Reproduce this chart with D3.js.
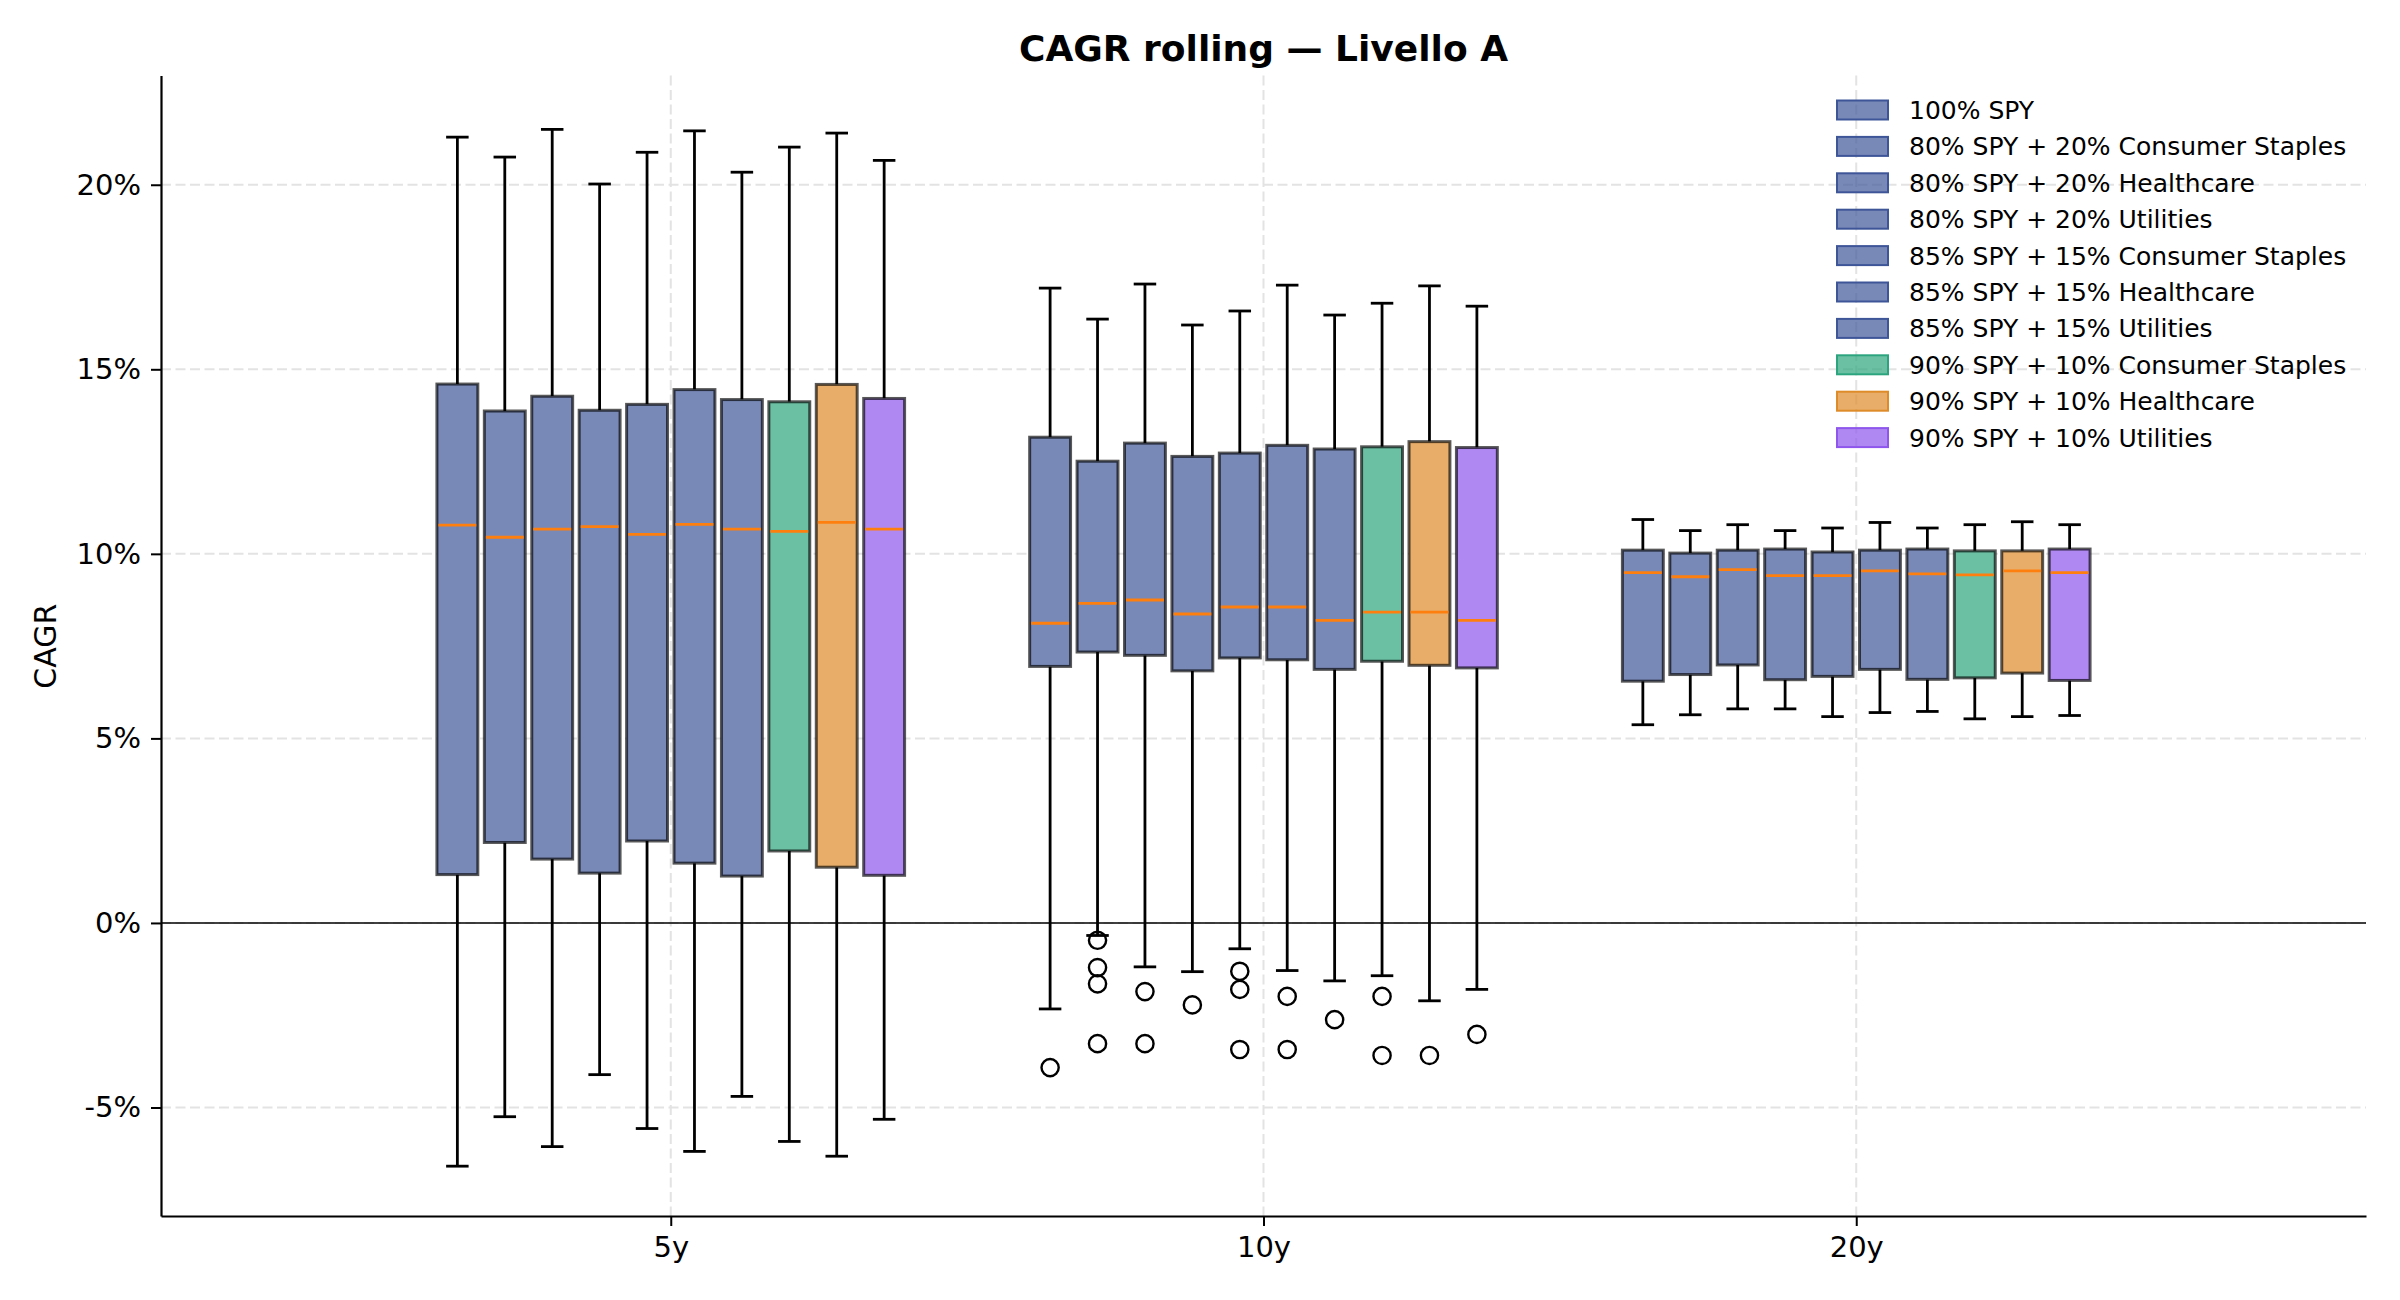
<!DOCTYPE html>
<html>
<head>
<meta charset="utf-8">
<script src="https://cdn.jsdelivr.net/npm/d3@7"></script>
<style>
  body { margin: 0; background: #fff; }
  svg text { font-family: "DejaVu Sans", sans-serif; }
</style>
</head>
<body>
<div id="chart"></div>
<script>
// data (CAGR in %)
const horizons = ['5y', '10y', '20y']
const seriesNames = [
  '100% SPY',
  '80% SPY + 20% Consumer Staples',
  '80% SPY + 20% Healthcare',
  '80% SPY + 20% Utilities',
  '85% SPY + 15% Consumer Staples',
  '85% SPY + 15% Healthcare',
  '85% SPY + 15% Utilities',
  '90% SPY + 10% Consumer Staples',
  '90% SPY + 10% Healthcare',
  '90% SPY + 10% Utilities'
]
const seriesColors = ['#3e5698', '#3e5698', '#3e5698', '#3e5698', '#3e5698', '#3e5698', '#3e5698', '#2ca57e', '#de8b2a', '#8e56ec']

// one array per horizon, one value per series
const whiskerHigh = [
  [21.29, 20.75, 21.50, 20.02, 20.88, 21.46, 20.34, 21.02, 21.40, 20.66],
  [17.20, 16.36, 17.31, 16.20, 16.58, 17.28, 16.47, 16.79, 17.26, 16.71],
  [10.93, 10.63, 10.79, 10.63, 10.70, 10.85, 10.70, 10.79, 10.87, 10.79]
]
const q3 = [
  [14.60, 13.87, 14.27, 13.89, 14.05, 14.45, 14.18, 14.12, 14.59, 14.21],
  [13.16, 12.51, 13.00, 12.64, 12.73, 12.94, 12.84, 12.90, 13.04, 12.88],
  [10.10, 10.02, 10.10, 10.13, 10.05, 10.10, 10.13, 10.08, 10.08, 10.13]
]
const medians = [
  [10.78, 10.45, 10.67, 10.74, 10.53, 10.80, 10.67, 10.61, 10.85, 10.67],
  [8.12, 8.66, 8.75, 8.37, 8.56, 8.56, 8.20, 8.42, 8.42, 8.20],
  [9.49, 9.38, 9.57, 9.41, 9.41, 9.54, 9.46, 9.43, 9.54, 9.49]
]
const q1 = [
  [1.31, 2.18, 1.73, 1.35, 2.22, 1.62, 1.27, 1.95, 1.51, 1.29],
  [6.95, 7.34, 7.25, 6.83, 7.18, 7.13, 6.87, 7.09, 6.98, 6.91],
  [6.55, 6.73, 6.99, 6.59, 6.68, 6.87, 6.60, 6.64, 6.77, 6.57]
]
const whiskerLow = [
  [-6.59, -5.25, -6.06, -4.11, -5.57, -6.19, -4.70, -5.92, -6.32, -5.32],
  [-2.33, -0.34, -1.19, -1.32, -0.70, -1.29, -1.57, -1.43, -2.11, -1.80],
  [5.37, 5.64, 5.80, 5.80, 5.59, 5.70, 5.73, 5.53, 5.59, 5.62]
]
const outliers = [
  [[], [], [], [], [], [], [], [], [], []],
  [[-3.92], [-0.47, -1.21, -1.65, -3.27], [-1.86, -3.27], [-2.22], [-1.31, -1.80, -3.43],
   [-1.99, -3.43], [-2.62], [-1.99, -3.59], [-3.59], [-3.02]],
  [[], [], [], [], [], [], [], [], [], []]
]
const yTicks = [-5, 0, 5, 10, 15, 20]

const svgWidth = 2400
const svgHeight = 1300
const margin = { top: 75.5, right: 34, bottom: 84, left: 161 }
const graphWidth = svgWidth - margin.left - margin.right
const graphHeight = svgHeight - margin.top - margin.bottom

const slot = 0.08
const boxWidth = 0.069

const svg = d3.select('#chart').append('svg')
  .attr('width', svgWidth)
  .attr('height', svgHeight)

const graph = svg.append('g')
  .attr('transform', `translate(${margin.left}, ${margin.top})`)

const x = d3.scaleLinear().domain([-0.86, 2.86]).range([0, graphWidth])
const y = d3.scaleLinear().domain([-7.94, 22.96]).range([graphHeight, 0])

// grid
graph.append('g').selectAll('line.hgrid')
  .data(yTicks)
  .enter().append('line')
  .attr('x1', 0).attr('x2', graphWidth)
  .attr('y1', d => y(d)).attr('y2', d => y(d))
  .attr('stroke', '#e3e3e3').attr('stroke-width', 2).attr('stroke-dasharray', '10 4.5')

graph.append('g').selectAll('line.vgrid')
  .data(horizons)
  .enter().append('line')
  .attr('x1', (d, i) => x(i)).attr('x2', (d, i) => x(i))
  .attr('y1', 0).attr('y2', graphHeight)
  .attr('stroke', '#e3e3e3').attr('stroke-width', 2).attr('stroke-dasharray', '10 4.5')

// zero line
graph.append('line')
  .attr('x1', 0).attr('x2', graphWidth)
  .attr('y1', y(0)).attr('y2', y(0))
  .attr('stroke', '#000').attr('stroke-width', 1.6)

// flatten into box records
const boxes = []
horizons.forEach((h, g) => {
  seriesNames.forEach((s, i) => {
    boxes.push({
      g: g, i: i,
      cx: g + (i - (seriesNames.length - 1) / 2) * slot,
      lo: whiskerLow[g][i], q1: q1[g][i], med: medians[g][i], q3: q3[g][i], hi: whiskerHigh[g][i],
      out: outliers[g][i]
    })
  })
})

const boxGroup = graph.append('g')
const bw = x(boxWidth) - x(0)
const capW = bw * 0.55

// whiskers
boxGroup.selectAll('line.wlow').data(boxes).enter().append('line')
  .attr('x1', d => x(d.cx)).attr('x2', d => x(d.cx))
  .attr('y1', d => y(d.q1)).attr('y2', d => y(d.lo))
  .attr('stroke', '#000').attr('stroke-width', 2.8)
boxGroup.selectAll('line.whigh').data(boxes).enter().append('line')
  .attr('x1', d => x(d.cx)).attr('x2', d => x(d.cx))
  .attr('y1', d => y(d.q3)).attr('y2', d => y(d.hi))
  .attr('stroke', '#000').attr('stroke-width', 2.8)
// caps
boxGroup.selectAll('line.clow').data(boxes).enter().append('line')
  .attr('x1', d => x(d.cx) - capW / 2).attr('x2', d => x(d.cx) + capW / 2)
  .attr('y1', d => y(d.lo)).attr('y2', d => y(d.lo))
  .attr('stroke', '#000').attr('stroke-width', 2.8)
boxGroup.selectAll('line.chigh').data(boxes).enter().append('line')
  .attr('x1', d => x(d.cx) - capW / 2).attr('x2', d => x(d.cx) + capW / 2)
  .attr('y1', d => y(d.hi)).attr('y2', d => y(d.hi))
  .attr('stroke', '#000').attr('stroke-width', 2.8)

// boxes
boxGroup.selectAll('rect').data(boxes).enter().append('rect')
  .attr('x', d => x(d.cx) - bw / 2)
  .attr('width', bw)
  .attr('y', d => y(d.q3))
  .attr('height', d => y(d.q1) - y(d.q3))
  .attr('fill', 'white')
boxGroup.selectAll('rect.fill').data(boxes).enter().append('rect')
  .attr('x', d => x(d.cx) - bw / 2)
  .attr('width', bw)
  .attr('y', d => y(d.q3))
  .attr('height', d => y(d.q1) - y(d.q3))
  .attr('fill', d => seriesColors[d.i]).attr('fill-opacity', 0.7)
  .attr('stroke', '#000').attr('stroke-opacity', 0.65).attr('stroke-width', 3)

// medians
boxGroup.selectAll('line.med').data(boxes).enter().append('line')
  .attr('x1', d => x(d.cx) - bw / 2 + 1.5).attr('x2', d => x(d.cx) + bw / 2 - 1.5)
  .attr('y1', d => y(d.med)).attr('y2', d => y(d.med))
  .attr('stroke', '#ff7f0e').attr('stroke-width', 2.8)

// outliers
const fliers = []
boxes.forEach(b => b.out.forEach(v => fliers.push({ cx: b.cx, v: v })))
boxGroup.selectAll('circle').data(fliers).enter().append('circle')
  .attr('cx', d => x(d.cx)).attr('cy', d => y(d.v))
  .attr('r', 8.6)
  .attr('fill', 'none').attr('stroke', '#000').attr('stroke-width', 2.4)

// axes
const yAxis = d3.axisLeft(y).tickValues(yTicks).tickFormat(d => d + '%').tickSize(10).tickPadding(10).tickSizeOuter(0)
const xAxis = d3.axisBottom(x).tickValues([0, 1, 2]).tickFormat((d, i) => horizons[i]).tickSize(10).tickPadding(10).tickSizeOuter(0)

const yAxisGroup = graph.append('g').call(yAxis)
const xAxisGroup = graph.append('g').attr('transform', `translate(0, ${graphHeight})`).call(xAxis)

;[yAxisGroup, xAxisGroup].forEach(a => {
  a.selectAll('text').attr('font-size', 29).attr('fill', '#000').attr('font-family', '"DejaVu Sans", sans-serif')
  a.selectAll('.tick line').attr('stroke', '#000').attr('stroke-width', 2)
  a.select('.domain').attr('stroke', '#000').attr('stroke-width', 2.2)
})

// axis title
graph.append('text')
  .attr('transform', 'rotate(-90)')
  .attr('x', -(y(7.5)))
  .attr('y', -105)
  .attr('text-anchor', 'middle')
  .attr('font-size', 30)
  .text('CAGR')

// title
svg.append('text')
  .attr('x', margin.left + graphWidth / 2)
  .attr('y', 61)
  .attr('text-anchor', 'middle')
  .attr('font-size', 36)
  .attr('font-weight', 'bold')
  .text('CAGR rolling — Livello A')

// legend
const legendGroup = svg.append('g').attr('transform', 'translate(1837, 110)')
const rows = legendGroup.selectAll('g').data(seriesNames).enter().append('g')
  .attr('transform', (d, i) => `translate(0, ${i * 36.4})`)
rows.append('rect')
  .attr('x', 0).attr('y', -9.5).attr('width', 51).attr('height', 19)
  .attr('fill', (d, i) => seriesColors[i]).attr('fill-opacity', 0.7)
  .attr('stroke', (d, i) => seriesColors[i]).attr('stroke-width', 2)
rows.append('text')
  .attr('x', 72).attr('y', 0)
  .attr('dy', '0.36em')
  .attr('font-size', 25)
  .text(d => d)
</script>
</body>
</html>
